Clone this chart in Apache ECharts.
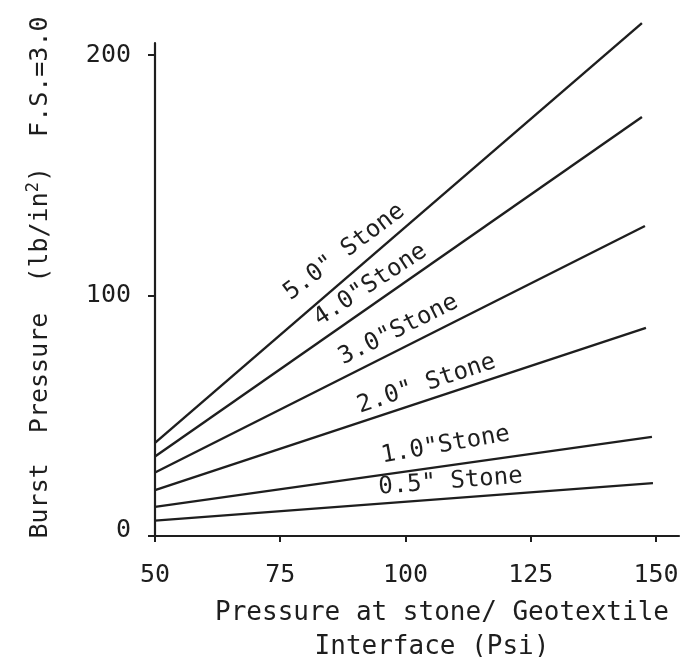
<!DOCTYPE html>
<html>
<head>
<meta charset="utf-8">
<script src="https://cdn.jsdelivr.net/npm/echarts@6/dist/echarts.min.js"></script>
<style>
  html, body { margin: 0; padding: 0; background: #ffffff; }
  #chart { width: 695px; height: 657px; }
</style>
</head>
<body>
<div id="chart"></div>
<script>
// Burst pressure (F.S. = 3.0) against interface pressure, one straight line per stone size
const stoneLabels = ['0.5" Stone', '1.0"Stone', '2.0" Stone', '3.0"Stone', '4.0"Stone', '5.0" Stone'];
const interfaceStart = [50, 50, 50, 50, 50, 50];
const interfaceEnd = [149.4, 149.2, 148.0, 147.8, 147.2, 147.2];
const burstStart = [6.4, 12.1, 19.1, 26.4, 33.1, 38.7];
const burstEnd = [22.0, 41.2, 86.5, 128.9, 174.2, 213.3];
const xTickValues = [50, 75, 100, 125, 150];
const yTickValues = [0, 100, 200];

// where each line's caption sits (data coordinates) and its slant in degrees
const labelPlacement = [
  { x: 109.0, y: 22.5, angle: 4.5 },
  { x: 108.0, y: 37.8, angle: 10 },
  { x: 104.2, y: 63.2, angle: 18.4 },
  { x: 98.6, y: 85.7, angle: 26.6 },
  { x: 93.0, y: 104.4, angle: 33.5 },
  { x: 87.8, y: 118.1, angle: 37 }
];

const INK = '#1e1e1e';
const FONT = "'DejaVu Sans Mono', 'Liberation Mono', monospace";

const series = stoneLabels.map((name, i) => ({
  name: name,
  type: 'line',
  data: [[interfaceStart[i], burstStart[i]], [interfaceEnd[i], burstEnd[i]]],
  showSymbol: false,
  symbol: 'none',
  clip: false,
  lineStyle: { color: INK, width: 2.4 },
  silent: true,
  markPoint: {
    symbol: 'circle',
    symbolSize: 0,
    silent: true,
    data: [{
      coord: [labelPlacement[i].x, labelPlacement[i].y],
      label: {
        show: true,
        position: 'inside',
        formatter: name,
        rotate: labelPlacement[i].angle,
        color: INK,
        fontFamily: FONT,
        fontSize: 24
      }
    }]
  }
}));

const chart = echarts.init(document.getElementById('chart'), null, { renderer: 'canvas' });
chart.setOption({
  animation: false,
  backgroundColor: '#ffffff',
  grid: { left: 155, right: 16, top: 43, bottom: 121, containLabel: false, outerBoundsMode: 'none' },
  xAxis: {
    type: 'value',
    min: 50,
    max: 154.6,
    interval: 25,
    axisLine: { show: true, lineStyle: { color: INK, width: 2.2 } },
    axisTick: { show: true, length: 6, customValues: xTickValues, lineStyle: { color: INK, width: 2 } },
    axisLabel: { customValues: xTickValues, margin: 27, color: INK, fontFamily: FONT, fontSize: 25 },
    splitLine: { show: false },
    name: '{a|Pressure at stone/ Geotextile}\n{b|Interface (Psi)}',
    nameLocation: 'middle',
    nameGap: 60,
    nameTextStyle: {
      color: INK,
      fontFamily: FONT,
      fontSize: 25,
      lineHeight: 34,
      rich: {
        a: { fontFamily: FONT, fontSize: 26, color: INK, lineHeight: 34, padding: [0, 0, 0, 50] },
        b: { fontFamily: FONT, fontSize: 26, color: INK, lineHeight: 34, padding: [0, 0, 0, 30] }
      }
    }
  },
  yAxis: {
    type: 'value',
    min: 0,
    max: 205,
    interval: 100,
    axisLine: { show: true, lineStyle: { color: INK, width: 2.2 } },
    axisTick: { show: true, length: 7, customValues: yTickValues, lineStyle: { color: INK, width: 2 } },
    axisLabel: {
      customValues: yTickValues,
      margin: 24,
      color: INK,
      fontFamily: FONT,
      fontSize: 25,
      formatter: v => (v === 0 ? '{z|0}' : String(v)),
      rich: { z: { fontFamily: FONT, fontSize: 25, color: INK, padding: [0, 0, 12, 0] } }
    },
    splitLine: { show: false },
    name: '{t|Burst  Pressure  (lb/in}{s|2}{t|)  F.S.=3.0}',
    nameLocation: 'middle',
    nameRotate: 90,
    nameGap: 100,
    nameTextStyle: {
      padding: [0, 0, 0, 24],
      rich: {
        t: { fontFamily: FONT, fontSize: 25, color: INK, lineHeight: 30 },
        s: { fontFamily: FONT, fontSize: 17, color: INK, lineHeight: 30, verticalAlign: 'top' }
      }
    }
  },
  series: series
});
</script>
</body>
</html>
